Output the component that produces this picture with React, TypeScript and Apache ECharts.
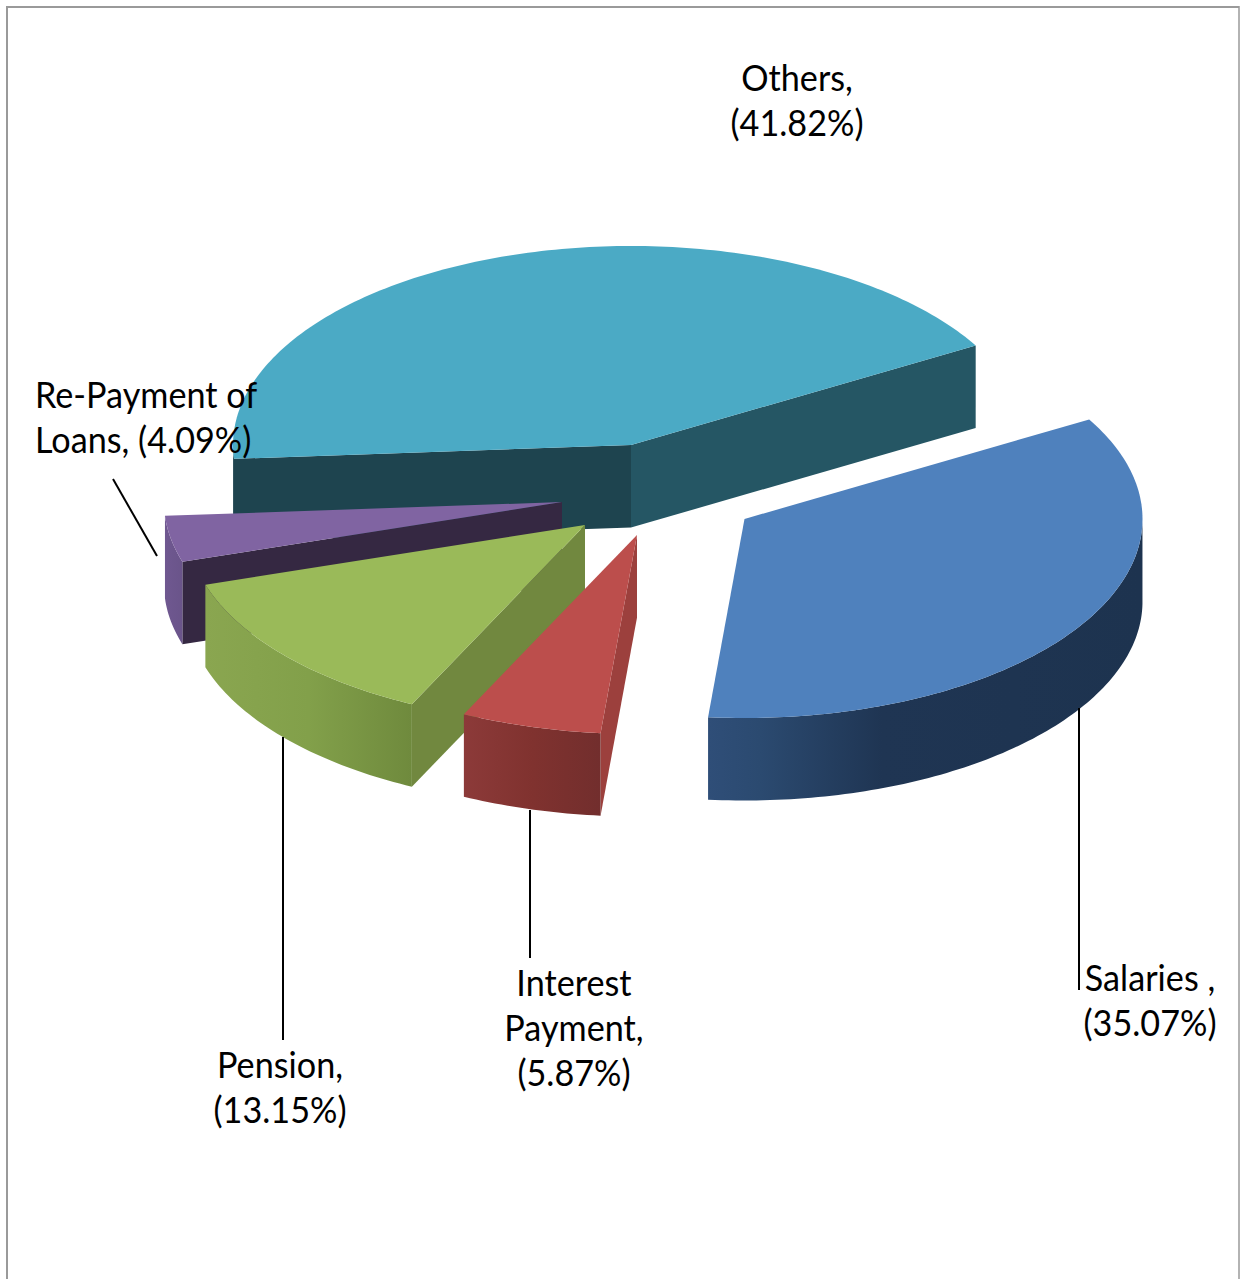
import React, { useEffect, useRef } from "react";
import * as echarts from "echarts";

// ---- data (clockwise, starting with the back slice) ----
const categories = ["Others", "Salaries", "Interest Payment", "Pension", "Re-Payment of Loans"];
const shares = [41.82, 35.07, 5.87, 13.15, 4.09];
const labelTexts = [
  "Others,\n(41.82%)",
  "Salaries ,\n(35.07%)",
  "Interest\nPayment,\n(5.87%)",
  "Pension,\n(13.15%)",
  "Re-Payment of\nLoans, (4.09%)",
];

// ---- layout ----
const W = 1240;
const H = 1279;
const RX = 398;
const RY = 199;
const DEPTH = 82.5;
const START_DEG = 181.552;
// small per-boundary correction standing in for the original's 3-D perspective
const perspectiveWarp = [2.44, -1, 0, 0.6, 1.2, 2.44];
const apexX = [631, 744.5, 637, 585, 562];
const apexY = [445, 519, 535, 525, 502];
const drawRank = [0, 4, 3, 2, 1];
const topFill = ["#4BAAC5", "#4F81BD", "#BC4E4C", "#9ABA59", "#8064A2"];
const startFace = ["#1E444F", "#2B4A70", "#9C403D", "#71883F", "#352842"];
const endFace = ["#255664", "#1F3553", "#7A2F2E", "#6F8A3C", "#5E4A78"];
const rimStops: [number, string][][] = [
  [[0, "#1E444F"], [1, "#1E444F"]],
  [[0, "#2F4E78"], [0.12, "#2B4A70"], [0.4, "#1F3553"], [1, "#1D334F"]],
  [[0, "#8C3A39"], [0.5, "#80322F"], [1, "#722E2D"]],
  [[0, "#8AA650"], [0.5, "#82A04A"], [1, "#6F8A3D"]],
  [[0, "#6F5890"], [1, "#6A548A"]],
];
const labelX = [797, 1150, 574, 280, 35];
const labelY = [99.5, 999, 1027, 1086.5, 416];
const labelAlign = ["center", "center", "center", "center", "left"];
const leaderLines = [
  [113, 479, 157, 556],
  [1079, 708, 1079, 990],
  [530, 810, 530, 958],
  [283, 737, 283, 1040],
];

const rad = (d: number) => (d * Math.PI) / 180;

function boundaries(): number[] {
  const out: number[] = [];
  let a = START_DEG;
  for (let i = 0; i <= shares.length; i++) {
    out.push(a + perspectiveWarp[i]);
    if (i < shares.length) a -= shares[i] * 3.6;
  }
  return out;
}

function renderSlice(params: any, api: any) {
  const i = params.dataIndex;
  api.value(0);
  const b = boundaries();
  const a0 = b[i];
  const a1 = b[i + 1];
  const cx = apexX[i];
  const cy = apexY[i];
  const pt = (deg: number, drop = 0): number[] => [
    cx + RX * Math.cos(rad(deg)),
    cy - RY * Math.sin(rad(deg)) + drop,
  ];
  const n = Math.max(8, Math.ceil((a0 - a1) / 1));
  const arc: number[][] = [];
  const rimAngles: number[] = [];
  for (let k = 0; k <= n; k++) {
    const t = a0 + ((a1 - a0) * k) / n;
    arc.push(pt(t));
    if (Math.sin(rad(t)) <= 0) rimAngles.push(t);
  }
  const rank = drawRank[i] * 10;
  const quad = (deg: number, fill: string) => ({
    type: "polygon",
    z2: rank + 1,
    shape: { points: [[cx, cy], pt(deg), pt(deg, DEPTH), [cx, cy + DEPTH]] },
    style: { fill },
  });
  const children: any[] = [];
  // a cut face is drawn only when its outward side looks towards the viewer
  if (Math.cos(rad(a0)) < 0) children.push(quad(a0, startFace[i]));
  if (Math.cos(rad(a1)) > 0) children.push(quad(a1, endFace[i]));
  if (rimAngles.length > 1) {
    const upper = rimAngles.map((t) => pt(t));
    const lower = rimAngles.map((t) => pt(t, DEPTH)).reverse();
    children.push({
      type: "polygon",
      z2: rank + 2,
      shape: { points: upper.concat(lower) },
      style: {
        fill: new echarts.graphic.LinearGradient(
          0, 0, 1, 0,
          rimStops[i].map(([offset, color]) => ({ offset, color }))
        ),
      },
    });
  }
  children.push({
    type: "polygon",
    z2: rank + 3,
    shape: { points: [[cx, cy], ...arc] },
    style: { fill: topFill[i] },
  });
  return { type: "group", children };
}

export default function App() {
  const ref = useRef<HTMLDivElement>(null);
  useEffect(() => {
    const chart = echarts.init(ref.current!, undefined, { renderer: "svg" });
    const frame = { stroke: "#9A9A9A", lineWidth: 2 };
    chart.setOption({
      animation: false,
      backgroundColor: "#FFFFFF",
      series: [
        {
          type: "custom",
          coordinateSystem: "none",
          silent: true,
          clip: false,
          data: shares.map((v, i) => ({ name: categories[i], value: [v] })),
          renderItem: renderSlice,
        },
      ],
      graphic: {
        elements: [
          { type: "line", z: 100, shape: { x1: 7, y1: 7, x2: 1239, y2: 7 }, style: frame },
          { type: "line", z: 100, shape: { x1: 7, y1: 6, x2: 7, y2: H }, style: frame },
          { type: "line", z: 100, shape: { x1: 1239, y1: 6, x2: 1239, y2: H }, style: { ...frame, lineWidth: 1.5 } },
          ...leaderLines.map(([x1, y1, x2, y2]) => ({
            type: "line",
            z: 100,
            shape: { x1, y1, x2, y2 },
            style: { stroke: "#000000", lineWidth: 2 },
          })),
          ...labelTexts.map((text, i) => ({
            type: "text",
            z: 101,
            x: labelX[i],
            y: labelY[i],
            scaleX: 0.95,
            style: {
              text,
              fill: "#000000",
              font: '36px Lato, "Noto Sans", sans-serif',
              lineHeight: 45,
              align: labelAlign[i],
              verticalAlign: "middle",
            },
          })),
        ],
      },
    });
    return () => chart.dispose();
  }, []);
  return (
    <div
      ref={ref}
      style={{ position: "absolute", left: 0, top: 0, width: W, height: H }}
    />
  );
}
